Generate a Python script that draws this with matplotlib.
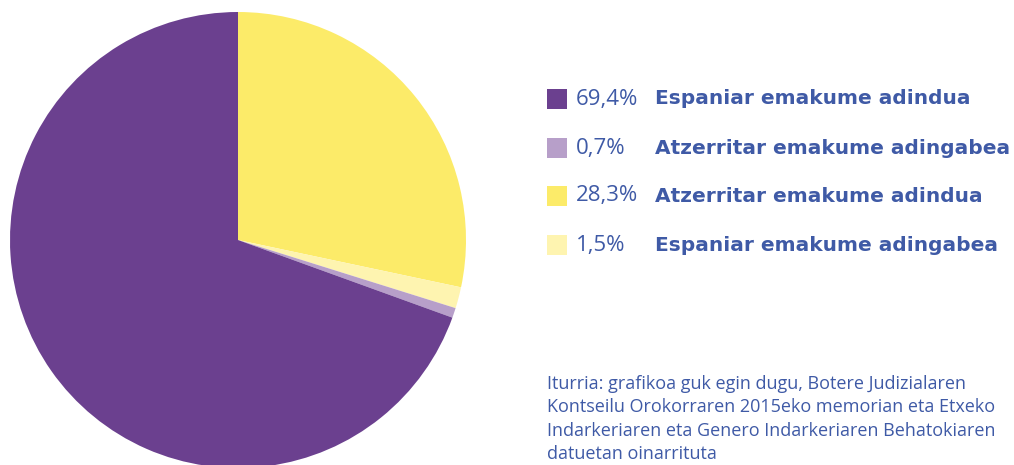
import matplotlib
matplotlib.use("Agg")
import matplotlib.pyplot as plt
from matplotlib.patches import Rectangle

percent_labels = ["69,4%", "0,7%", "28,3%", "1,5%"]
categories = ["Espaniar emakume adindua", "Atzerritar emakume adingabea",
              "Atzerritar emakume adindua", "Espaniar emakume adingabea"]
values = [69.4, 0.7, 28.3, 1.5]
colors = ["#6B408F", "#B79FC9", "#FCEB69", "#FEF4B0"]

# pie order (clockwise from top)
pie_order = [2, 3, 1, 0]

source_text = ("Iturria: grafikoa guk egin dugu, Botere Judizialaren\n"
               "Kontseilu Orokorraren 2015eko memorian eta Etxeko\n"
               "Indarkeriaren eta Genero Indarkeriaren Behatokiaren\n"
               "datuetan oinarrituta")

W, H = 1014, 465
fig = plt.figure(figsize=(W / 100, H / 100), dpi=100)

ax = fig.add_axes([10 / W, (H - 468) / H, 456 / W, 456 / H])
ax.pie([values[i] for i in pie_order], colors=[colors[i] for i in pie_order],
       startangle=90, counterclock=False, radius=1,
       wedgeprops=dict(linewidth=0))
ax.set_xlim(-1, 1)
ax.set_ylim(-1, 1)
ax.set_aspect("equal")
ax.axis("off")

text_color = "#3F5AA6"
row_y = [99, 148, 196, 245]
for i, y in enumerate(row_y):
    yf = 1 - y / H
    fig.patches.append(Rectangle((547 / W, 1 - (y + 10) / H), 20 / W, 20 / H,
                                 transform=fig.transFigure, facecolor=colors[i],
                                 edgecolor="none"))
    fig.text(576 / W, yf, percent_labels[i], fontsize=16, color=text_color,
             family="Open Sans", weight="normal", va="center", ha="left")
    fig.text(655 / W, yf, categories[i], fontsize=14.5, color=text_color,
             family="DejaVu Sans", weight="bold", va="center", ha="left")

fig.text(547 / W, 1 - 375 / H, source_text, fontsize=13, color=text_color,
         family="Open Sans", weight="normal", va="top", ha="left", linespacing=1.38)

fig.savefig("out.png", dpi=100)
